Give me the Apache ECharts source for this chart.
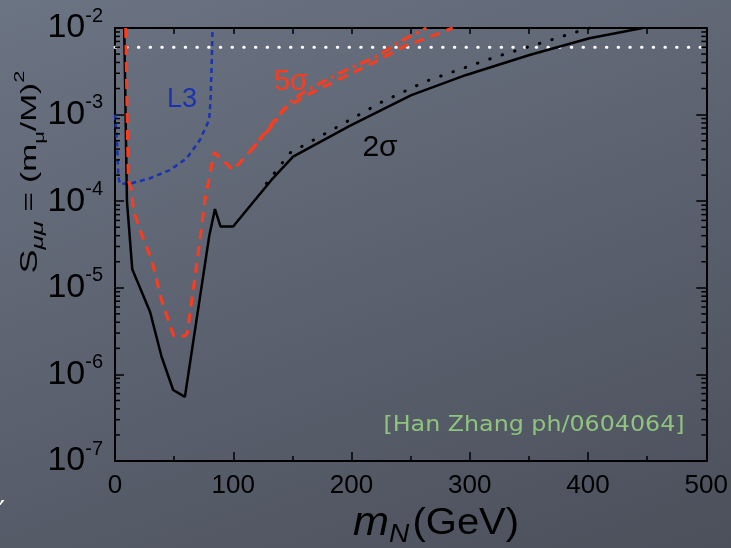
<!DOCTYPE html>
<html><head><meta charset="utf-8">
<script src="https://cdn.jsdelivr.net/npm/echarts@6/dist/echarts.min.js"></script>
<style>
html,body{margin:0;padding:0;}
body{width:731px;height:548px;overflow:hidden;background:linear-gradient(160deg,#6b7483 0%,#5d6371 45%,#4b505b 100%);}
#c{width:731px;height:548px;}
</style></head><body><div id="c"></div>
<script>
// 2 sigma (solid black)
const x2sigma = [7.8, 10.1, 14.6, 29.6, 39.4, 49.2, 59.1, 79.6, 84.5, 89.3, 99.9, 132.3, 150.6, 198.5, 250.6, 297, 350.5, 401.2, 446.2];
const y2sigma = [1e-2, 1e-4, 1.64e-5, 5.3e-6, 1.6e-6, 6.6e-7, 5.5e-7, 3.9e-5, 8.1e-5, 5.1e-5, 5.1e-5, 1.76e-4, 3.27e-4, 7.4e-4, 1.68e-3, 2.87e-3, 4.88e-3, 7.6e-3, 1e-2];
// 2 sigma variant (dotted black)
const x2sigmaDot = [128, 147.8, 183, 223.8, 263.3, 322.4, 373, 401];
const y2sigmaDot = [1.6e-4, 3.6e-4, 6.6e-4, 1.36e-3, 2.44e-3, 4.66e-3, 7.6e-3, 1e-2];
// 5 sigma (dashed red)
const x5sigma = [9.0, 11.2, 14.1, 15.5, 21.1, 31.0, 39.4, 47.9, 49.8, 59.1, 61.1, 66.1, 71.8, 76.0, 83.9, 99.9, 114, 141.9, 162.2, 190, 217.9, 244.9, 266, 285.5];
const y5sigma = [1e-2, 1.76e-4, 1.35e-4, 7.9e-5, 4.65e-5, 2.09e-5, 7.2e-6, 3.26e-6, 2.77e-6, 2.77e-6, 3.0e-6, 9.4e-6, 3.56e-5, 1.03e-4, 3.67e-4, 2.29e-4, 3.73e-4, 1.13e-3, 1.68e-3, 2.58e-3, 3.94e-3, 6.2e-3, 7.87e-3, 1e-2];
// 5 sigma variant (dash-dot red)
const x5sigmaDD = [114, 133.4, 147.8, 162.2, 190, 223.8, 240.7, 263.3];
const y5sigmaDD = [3.73e-4, 7.6e-4, 1.40e-3, 1.92e-3, 3.02e-3, 4.88e-3, 6.95e-3, 1e-2];
// L3 bound (dotted blue)
const xL3 = [0, 1.9, 2.8, 4.2, 14.1, 29.6, 46.5, 60.6, 71.8, 79.6, 80.8, 81.7, 82.5];
const yL3 = [1e-3, 4.26e-4, 1.92e-4, 1.58e-4, 1.61e-4, 1.84e-4, 2.29e-4, 3.13e-4, 5.09e-4, 8.7e-4, 1.47e-3, 3.57e-3, 1e-2];
// horizontal bound (white dotted)
const xBound = [0, 500];
const yBound = [6.0e-3, 6.0e-3];
// axes
const xTicks = [0, 100, 200, 300, 400, 500];
const yDecades = [-7, -6, -5, -4, -3, -2];
const minorMantissas = [2, 3, 4, 5, 6, 7, 8, 9];

function pairs(xs, ys) { return xs.map((x, i) => [x, ys[i]]); }
const minorTickData = [];
yDecades.slice(0, -1).forEach(e => minorMantissas.forEach(m => minorTickData.push([0, m * Math.pow(10, e)])));

const FONT = '"Liberation Sans", Arial, sans-serif';
const chart = echarts.init(document.getElementById('c'), null, {renderer: 'canvas'});
const axisLine = {show: true, onZero: false, lineStyle: {color: '#000', width: 2}};
const tickStyle = {color: '#000', width: 1.5};

chart.setOption({
  animation: false,
  backgroundColor: 'transparent',
  grid: {left: 115, right: 24, top: 28, bottom: 87},
  xAxis: [{
    type: 'value', min: xTicks[0], max: xTicks[xTicks.length - 1], interval: 100, position: 'bottom',
    axisLine: axisLine,
    axisTick: {inside: true, length: 9, lineStyle: tickStyle},
    minorTick: {show: true, splitNumber: 2, length: 5, lineStyle: tickStyle},
    axisLabel: {fontSize: 26, color: '#000', margin: 12, fontFamily: FONT},
    splitLine: {show: false}, minorSplitLine: {show: false}
  }, {
    type: 'value', min: 0, max: 500, interval: 50, position: 'top',
    axisLine: axisLine,
    axisTick: {inside: true, length: 6, lineStyle: tickStyle},
    axisLabel: {show: false}, splitLine: {show: false}
  }],
  yAxis: [{
    type: 'log', logBase: 10, min: Math.pow(10, yDecades[0]), max: Math.pow(10, yDecades[yDecades.length - 1]),
    splitNumber: 5, position: 'left',
    axisLine: axisLine,
    axisTick: {inside: true, length: 9, lineStyle: tickStyle},
    axisLabel: {
      margin: 12,
      formatter: v => '{b|10}{s|' + Math.round(Math.log10(v)) + '}',
      rich: {
        b: {fontSize: 34, fontFamily: FONT, color: '#000', lineHeight: 44},
        s: {fontSize: 20, fontFamily: FONT, color: '#000', lineHeight: 20, verticalAlign: 'top'}
      }
    },
    splitLine: {show: false}
  }, {
    type: 'log', logBase: 10, min: 1e-7, max: 1e-2, splitNumber: 5, position: 'right',
    axisLine: axisLine,
    axisTick: {inside: true, length: 10, lineStyle: tickStyle},
    axisLabel: {show: false}, splitLine: {show: false}
  }],
  series: [
    {type: 'custom', silent: true, clip: false, z: 5, data: minorTickData,
     renderItem: (params, api) => {
       const v = api.value(1);
       const p = api.coord([0, v]);
       const q = api.coord([500, v]);
       return {type: 'group', children: [
         {type: 'line', shape: {x1: p[0], y1: p[1], x2: p[0] + 5, y2: p[1]}, style: {stroke: '#000', lineWidth: 1.5}},
         {type: 'line', shape: {x1: q[0], y1: q[1], x2: q[0] - 5, y2: q[1]}, style: {stroke: '#000', lineWidth: 1.5}}
       ]};
     }},
    {type: 'line', data: pairs(xBound, yBound), symbol: 'none', z: 2,
     lineStyle: {color: '#ffffff', width: 3, type: [0.5, 11.2], cap: 'round'}},
    {type: 'line', data: pairs(xL3, yL3), symbol: 'none', z: 3,
     lineStyle: {color: '#1a33b3', width: 2.5, type: [5, 4]}},
    {type: 'line', data: pairs(x2sigmaDot, y2sigmaDot), symbol: 'none', z: 3,
     lineStyle: {color: '#000', width: 3, type: [0.5, 12.5], cap: 'round'}},
    {type: 'line', data: pairs(x2sigma, y2sigma), symbol: 'none', z: 4,
     lineStyle: {color: '#000', width: 2.5}},
    {type: 'line', data: pairs(x5sigma, y5sigma), symbol: 'none', z: 4,
     lineStyle: {color: '#ff3b1c', width: 3, type: [10, 7]}},
    {type: 'line', data: pairs(x5sigmaDD, y5sigmaDD), symbol: 'none', z: 4,
     lineStyle: {color: '#ff3b1c', width: 3, type: [11, 5, 3, 5]}}
  ],
  graphic: [
    {type: 'text', x: 182, y: 100, style: {text: 'L3', x: 0, y: 0, align: 'center', verticalAlign: 'middle', font: '27px ' + FONT, fill: '#1a33b3'}},
    {type: 'text', x: 291, y: 82, style: {text: '5σ', x: 0, y: 0, align: 'center', verticalAlign: 'middle', font: '29px ' + FONT, fill: '#ff3b1c'}},
    {type: 'text', x: 380, y: 148, style: {text: '2σ', x: 0, y: 0, align: 'center', verticalAlign: 'middle', font: '30px ' + FONT, fill: '#000'}},
    {type: 'text', x: 534, y: 425, scaleX: 1.08, style: {text: '[Han Zhang ph/0604064]', x: 0, y: 0, align: 'center', verticalAlign: 'middle', font: '22px "DejaVu Sans", sans-serif', fill: '#8fc47e'}},
    {type: 'text', x: 2, y: 514, style: {text: '′', x: 0, y: 0, align: 'center', verticalAlign: 'middle', font: '28px "DejaVu Sans", sans-serif', fill: '#ffffff'}},
    {type: 'text', x: 353, y: 524, scaleX: 1.08,
     style: {x: 0, y: 0, align: 'left', verticalAlign: 'middle',
       text: '{m|m}{n|N}{g|(GeV)}',
       rich: {
         m: {fontSize: 40, fontStyle: 'italic', fontFamily: FONT, color: '#000', lineHeight: 48},
         n: {fontSize: 26, fontStyle: 'italic', fontFamily: FONT, color: '#000', lineHeight: 26, verticalAlign: 'bottom', padding: [0, 3, 0, 0]},
         g: {fontSize: 37, fontFamily: FONT, color: '#000', lineHeight: 48}
       }}},
    {type: 'text', x: 30, y: 172, rotation: Math.PI / 2, scaleX: 1.29, scaleY: 0.85,
     style: {x: 0, y: 0, align: 'center', verticalAlign: 'middle',
       text: '{s|S}{u|μμ}{f| = (m}{fu|μ}{f|/M)}{fp|2}',
       rich: {
         s: {fontSize: 28, fontFamily: FONT, color: '#000', lineHeight: 40},
         u: {fontSize: 20, fontStyle: 'italic', fontFamily: FONT, color: '#000', lineHeight: 20, verticalAlign: 'bottom'},
         f: {fontSize: 26, fontFamily: FONT, color: '#6b696a', lineHeight: 40},
         fu: {fontSize: 17, fontFamily: FONT, color: '#6b696a', lineHeight: 20, verticalAlign: 'bottom'},
         fp: {fontSize: 17, fontFamily: FONT, color: '#6b696a', lineHeight: 20, verticalAlign: 'top'}
       }}}
  ]
});
</script></body></html>
